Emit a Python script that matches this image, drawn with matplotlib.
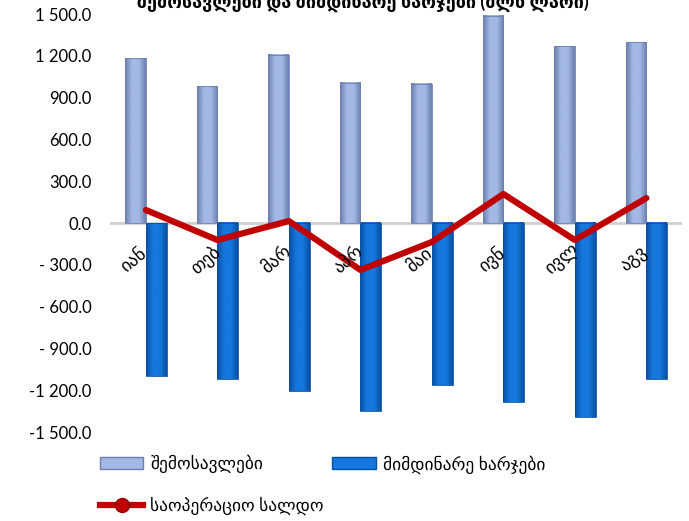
import matplotlib
matplotlib.use("Agg")
import matplotlib.pyplot as plt
import numpy as np
from matplotlib.patches import Patch
from matplotlib.lines import Line2D
from matplotlib.ticker import FuncFormatter

plt.rcParams['font.family'] = ['Lato', 'DejaVu Sans']

# data (mln GEL)
months = ["იან", "თებ", "მარ", "აპრ", "მაი", "ივნ", "ივლ", "აგვ"]
revenues = [1184, 983, 1206, 1005, 998, 1486, 1270, 1299]
expenses = [-1098, -1120, -1206, -1350, -1163, -1285, -1393, -1120]
balance = [93, -122, 14, -337, -136, 208, -122, 179]
yticks = [1500, 1200, 900, 600, 300, 0, -300, -600, -900, -1200, -1500]

series_names = ["შემოსავლები", "მიმდინარე ხარჯები", "საოპერაციო სალდო"]
title = "შემოსავლები და მიმდინარე ხარჯები (მლნ ლარი)"

rev_edge, rev_mid = "#6b7fb0", "#a4b8e4"
exp_edge, exp_mid = "#094ea3", "#1578de"
line_color = "#c00000"


def gradient_bar(ax, x0, width, height, c_edge, c_mid):
    # horizontal gradient: darker edges, lighter middle
    cmap = matplotlib.colors.LinearSegmentedColormap.from_list("g", [c_edge, c_mid, c_mid, c_edge])
    grad = np.linspace(0, 1, 64).reshape(1, -1)
    lo, hi = sorted([0, height])
    ax.imshow(grad, cmap=cmap, extent=(x0, x0 + width, lo, hi), aspect="auto",
              interpolation="bicubic", zorder=2)
    ax.add_patch(plt.Rectangle((x0, 0), width, height, fill=False,
                               edgecolor=c_edge, linewidth=0.6, zorder=3))


fig = plt.figure(figsize=(6.89, 5.21), dpi=100)
ax = fig.add_axes([0.160, 0.1708, 0.830, 0.8023])

x = np.arange(len(months))
bw = 0.29
for i in x:
    gradient_bar(ax, i - bw, bw, revenues[i], rev_edge, rev_mid)
    gradient_bar(ax, i, bw, expenses[i], exp_edge, exp_mid)

ax.axhline(0, color="#cfcfcf", linewidth=2, zorder=1)
ax.plot(x, balance, color=line_color, linewidth=4.5, solid_capstyle="round",
        solid_joinstyle="round", zorder=5)

ax.set_xlim(-0.5, len(months) - 0.5)
ax.set_ylim(-1500, 1500)
ax.set_yticks(yticks)


def fmt(v, pos):
    s = "{:,.1f}".format(abs(v)).replace(",", " ")
    if v < 0:
        return ("-" + s) if abs(v) >= 1000 else ("- " + s)
    return s


ax.yaxis.set_major_formatter(FuncFormatter(fmt))
ax.tick_params(axis="y", length=0, labelsize=12, pad=13.5)
ax.set_xticks([])
for sp in ax.spines.values():
    sp.set_visible(False)

for i, m in enumerate(months):
    ax.text(i - 0.17, -265, m, rotation=40, ha="center", va="center", fontsize=13, zorder=6)

fig.text(0.527, 1 - 8 / 521, title, ha="center", va="baseline", fontsize=13, fontweight="bold")

handles = [
    Patch(facecolor=rev_mid, edgecolor=rev_edge),
    Line2D([0], [0], color=line_color, linewidth=4.5, marker="o", markersize=10,
           markerfacecolor=line_color, markeredgecolor="#900000"),
    Patch(facecolor=exp_mid, edgecolor=exp_edge),
]
labels = [series_names[0], series_names[2], series_names[1]]
fig.legend(handles, labels, loc="upper left", bbox_to_anchor=(0.135, 0.14), ncol=2,
           frameon=False, fontsize=12.5, handlelength=2.5, handleheight=0.7,
           handletextpad=0.4, columnspacing=0.5, labelspacing=1.35, borderaxespad=0)

fig.savefig("out.png", dpi=100)
